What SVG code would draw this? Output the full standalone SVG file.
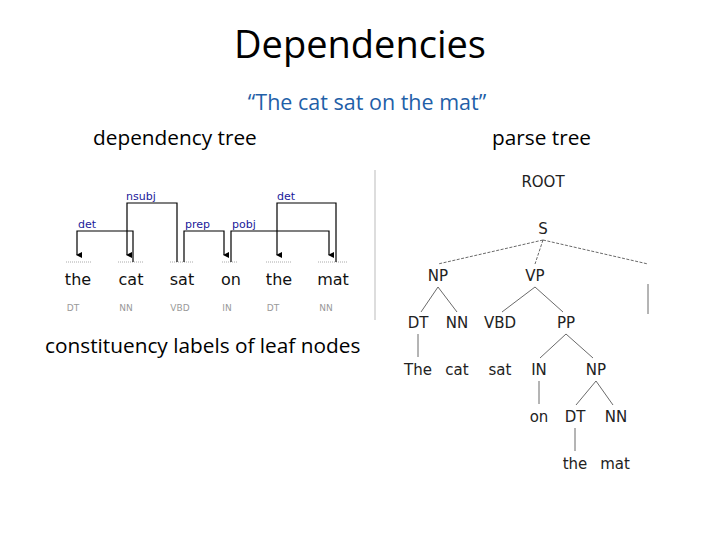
<svg xmlns="http://www.w3.org/2000/svg" width="720" height="540" viewBox="0 0 720 540">
<defs>
<style>
.t{font-family:"Open Sans","Liberation Sans",sans-serif;fill:#000}
.w{font-family:"DejaVu Sans",sans-serif;font-size:16px;fill:#111;text-anchor:middle}
.tag{font-family:"DejaVu Sans",sans-serif;font-size:9px;fill:#999;text-anchor:middle}
.lab{font-family:"DejaVu Sans",sans-serif;font-size:11px;fill:#1a1a9a}
.arc{fill:none;stroke:#000;stroke-width:1.2}
.tick{stroke:#aaa;stroke-width:1;stroke-dasharray:1 1}
.pt{font-family:"DejaVu Sans",sans-serif;font-size:15px;fill:#222;text-anchor:middle}
.pl{stroke:#444;stroke-width:0.8;fill:none}
</style>
<marker id="ah" markerWidth="6" markerHeight="6" refX="3" refY="5" orient="auto" markerUnits="userSpaceOnUse"><path d="M0,0 L6,0 L3,6 z" fill="#000"/></marker>
</defs>
<rect width="720" height="540" fill="#fff"/>
<text class="t" x="360" y="58" font-size="38" text-anchor="middle">Dependencies</text>
<text x="367" y="110" font-size="21.5" text-anchor="middle" font-family="Open Sans,Liberation Sans,sans-serif" fill="#1f5fa8">“The cat sat on the mat”</text>
<text class="t" x="93" y="145" font-size="20.8">dependency tree</text>
<text class="t" x="492" y="145" font-size="20.8">parse tree</text>
<text class="t" x="45" y="353" font-size="20.8">constituency labels of leaf nodes</text>
<line x1="375" y1="170" x2="375" y2="320" stroke="#ddd" stroke-width="2"/>
<g id="dep-words">
<g class="tick"><line x1="66" y1="262" x2="92" y2="262"/><line x1="118" y1="262" x2="144" y2="262"/><line x1="170" y1="262" x2="194" y2="262"/><line x1="222" y1="262" x2="238" y2="262"/><line x1="266" y1="262" x2="292" y2="262"/><line x1="318" y1="262" x2="348" y2="262"/></g>
<text class="w" x="78" y="285">the</text><text class="w" x="131" y="285">cat</text><text class="w" x="182" y="285">sat</text><text class="w" x="231" y="285">on</text><text class="w" x="279" y="285">the</text><text class="w" x="333" y="285">mat</text>
<text class="tag" x="73" y="311">DT</text><text class="tag" x="126" y="311">NN</text><text class="tag" x="180" y="311">VBD</text><text class="tag" x="227" y="311">IN</text><text class="tag" x="273" y="311">DT</text><text class="tag" x="326" y="311">NN</text>
</g>
<g id="dep-arcs">
<path class="arc" d="M133,262 V231 H77 V255" marker-end="url(#ah)"/>
<path class="arc" d="M177,262 V203 H127 V255" marker-end="url(#ah)"/>
<path class="arc" d="M184,262 V231 H224 V255" marker-end="url(#ah)"/>
<path class="arc" d="M231,262 V231 H329 V255" marker-end="url(#ah)"/>
<path class="arc" d="M336,262 V203 H277 V255" marker-end="url(#ah)"/>
<text class="lab" x="78" y="228">det</text><text class="lab" x="126" y="200">nsubj</text><text class="lab" x="185" y="228">prep</text><text class="lab" x="232" y="228">pobj</text><text class="lab" x="277" y="200">det</text>
</g>
<g id="parse-nodes">
<text class="pt" x="543" y="187">ROOT</text><text class="pt" x="543" y="234">S</text>
<text class="pt" x="438" y="281">NP</text><text class="pt" x="535" y="281">VP</text>
<text class="pt" x="418" y="328">DT</text><text class="pt" x="457" y="328">NN</text><text class="pt" x="500" y="328">VBD</text><text class="pt" x="566" y="328">PP</text>
<text class="pt" x="418" y="375">The</text><text class="pt" x="457" y="375">cat</text><text class="pt" x="500" y="375">sat</text><text class="pt" x="539" y="375">IN</text><text class="pt" x="596" y="375">NP</text>
<text class="pt" x="539" y="422">on</text><text class="pt" x="575" y="422">DT</text><text class="pt" x="616" y="422">NN</text>
<text class="pt" x="575" y="469">the</text><text class="pt" x="615" y="469">mat</text>
</g>
<g id="parse-edges" class="pl">
<line x1="543" y1="240" x2="438" y2="264" stroke-dasharray="3 1.5"/><line x1="543" y1="240" x2="535" y2="264" stroke-dasharray="3 1.5"/><line x1="543" y1="240" x2="648" y2="264" stroke-dasharray="3 1.5"/>
<line x1="438" y1="287" x2="421" y2="312"/><line x1="438" y1="287" x2="457" y2="312"/>
<line x1="535" y1="287" x2="502" y2="312"/><line x1="535" y1="287" x2="563" y2="312"/>
<line x1="418" y1="334" x2="418" y2="357"/>
<line x1="566" y1="334" x2="540" y2="358"/><line x1="566" y1="334" x2="593" y2="358"/>
<line x1="539" y1="381" x2="539" y2="404"/>
<line x1="596" y1="381" x2="576" y2="405"/><line x1="596" y1="381" x2="613" y2="405"/>
<line x1="575" y1="428" x2="575" y2="451"/>
<line x1="648" y1="284" x2="648" y2="314"/>
</g>
</svg>
